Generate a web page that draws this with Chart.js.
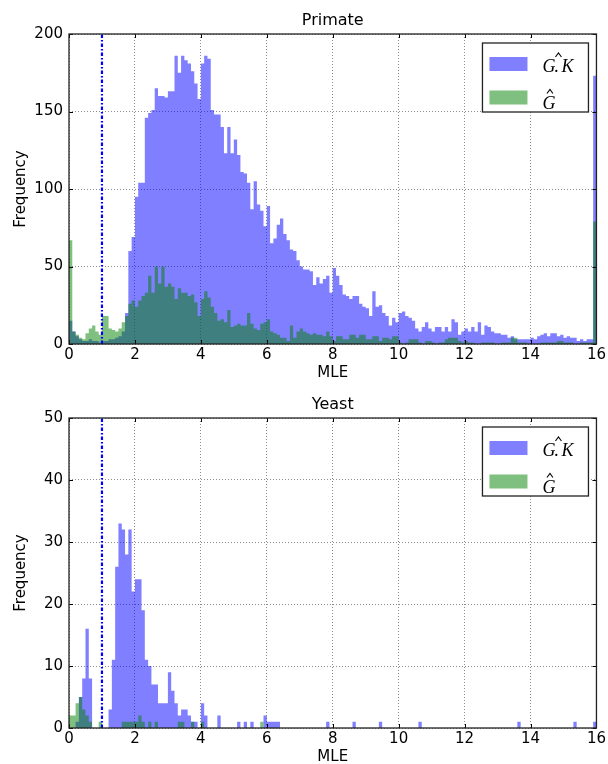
<!DOCTYPE html>
<html>
<head>
<meta charset="utf-8">
<script src="https://cdn.jsdelivr.net/npm/chart.js@4.4.1/dist/chart.umd.min.js"></script>
<style>
  html, body { margin: 0; padding: 0; background: #fff; }
  canvas { display: block; }
</style>
</head>
<body>
<canvas id="primate" width="608" height="382"></canvas>
<canvas id="yeast" width="608" height="382"></canvas>
<script>
// histogram bins: 160 bins of width 0.1 on [0, 16]
const binWidth = 0.1;
const binCount = 160;
const xTicks = [0, 2, 4, 6, 8, 10, 12, 14, 16];
const primateYTicks = [0, 50, 100, 150, 200];
const yeastYTicks = [0, 10, 20, 30, 40, 50];
const thresholdX = 1;
const seriesNames = ['G.K', 'G'];

// Primate, G.K hat (blue)
const primateGK = [
  15, 8, 5, 3, 2, 2, 3, 2, 2, 1,
  2, 2, 3, 3, 4, 5, 8, 20, 60, 69,
  95, 104, 104, 146, 149, 151, 165, 160, 160, 159,
  163, 163, 186, 175, 186, 183, 181, 176, 168, 158,
  181, 186, 184, 151, 148, 148, 140, 123, 140, 123,
  132, 122, 111, 110, 104, 87, 105, 90, 86, 76,
  89, 65, 68, 77, 81, 71, 67, 61, 60, 54,
  50, 48, 48, 47, 38, 43, 39, 42, 44, 33,
  49, 44, 38, 32, 31, 29, 31, 31, 26, 24,
  23, 18, 34, 24, 25, 20, 18, 12, 17, 14,
  20, 21, 18, 17, 15, 10, 8, 11, 14, 10,
  8, 11, 11, 8, 11, 8, 16, 14, 6, 8,
  10, 8, 11, 8, 14, 6, 12, 11, 8, 7,
  7, 6, 6, 4, 5, 3, 3, 3, 3, 3,
  4, 3, 5, 6, 7, 5, 7, 7, 5, 6,
  4, 5, 4, 4, 2, 3, 2, 3, 3, 173
];
// Primate, G hat (green)
const primateG = [
  67, 8, 6, 4, 3, 7, 10, 12, 8, 6,
  18, 18, 10, 9, 8, 10, 14, 18, 26, 28,
  24, 28, 31, 33, 44, 33, 50, 39, 50, 37,
  39, 37, 29, 36, 33, 33, 31, 32, 27, 18,
  29, 34, 30, 24, 20, 15, 16, 14, 22, 11,
  12, 13, 12, 12, 20, 13, 10, 9, 13, 14,
  16, 8, 7, 6, 4, 4, 2, 12, 4, 8,
  10, 8, 7, 6, 7, 6, 6, 5, 8, 5,
  2, 5, 5, 3, 3, 6, 6, 4, 6, 6,
  3, 3, 5, 5, 2, 4, 4, 3, 5, 5,
  1, 0, 1, 3, 3, 3, 1, 0, 2, 2,
  1, 0, 1, 1, 3, 4, 4, 4, 2, 1,
  2, 1, 1, 0, 0, 1, 1, 1, 1, 0,
  0, 1, 1, 1, 4, 4, 1, 1, 1, 0,
  0, 0, 0, 1, 1, 1, 1, 1, 2, 2,
  1, 1, 1, 0, 0, 1, 1, 1, 1, 79
];
// Yeast, G.K hat (blue)
const yeastGK = [
  0, 0, 1, 5, 8, 16, 8, 0, 0, 0,
  0, 0, 3, 11, 26, 33, 32, 28, 32, 22,
  24, 24, 19, 11, 10, 7, 7, 4, 4, 4,
  9, 6, 4, 2, 3, 3, 2, 1, 1, 0,
  4, 2, 0, 0, 0, 2, 0, 0, 0, 0,
  0, 1, 0, 1, 0, 1, 0, 0, 0, 2,
  1, 1, 1, 1, 0, 0, 0, 0, 0, 0,
  0, 0, 0, 0, 0, 0, 0, 0, 1, 0,
  0, 0, 0, 0, 0, 0, 1, 0, 0, 0,
  0, 0, 0, 0, 1, 0, 0, 0, 0, 0,
  0, 0, 0, 0, 0, 0, 1, 0, 0, 0,
  0, 0, 0, 0, 0, 0, 0, 0, 0, 0,
  0, 0, 0, 0, 0, 0, 0, 0, 0, 0,
  0, 0, 0, 0, 0, 0, 1, 0, 0, 0,
  0, 0, 0, 0, 0, 0, 0, 0, 0, 0,
  0, 0, 0, 1, 0, 0, 0, 0, 0, 1
];
// Yeast, G hat (green)
const yeastG = [
  2, 2, 4, 5, 3, 2, 1, 0, 0, 1,
  0, 0, 0, 0, 0, 0, 1, 1, 1, 1,
  1, 2, 1, 0, 1, 0, 1, 0, 0, 0,
  0, 0, 0, 1, 1, 0, 0, 1, 0, 0,
  1, 0, 0, 0, 0, 0, 0, 0, 0, 0,
  0, 0, 0, 0, 0, 0, 0, 0, 1, 0,
  0, 0, 0, 0, 0, 0, 0, 0, 0, 0,
  0, 0, 0, 0, 0, 0, 0, 0, 0, 0,
  0, 0, 0, 0, 0, 0, 0, 0, 0, 0,
  0, 0, 0, 0, 0, 0, 0, 0, 0, 0,
  0, 0, 0, 0, 0, 0, 0, 0, 0, 0,
  0, 0, 0, 0, 0, 0, 0, 0, 0, 0,
  0, 0, 0, 0, 0, 0, 0, 0, 0, 0,
  0, 0, 0, 0, 0, 0, 0, 0, 0, 0,
  0, 0, 0, 0, 0, 0, 0, 0, 0, 0,
  0, 0, 0, 0, 0, 0, 0, 0, 0, 0
];

const gkColor = 'rgba(0, 0, 255, 0.5)';
const gColor = 'rgba(0, 128, 0, 0.5)';

Chart.defaults.font.family = '"DejaVu Sans", sans-serif';
Chart.defaults.font.size = 15;
Chart.defaults.color = '#000';

// bin edges -> stepped points (last edge repeats last bin)
const toSteps = v => [...v.map((n, i) => ({ x: i / 10, y: n })), { x: binCount * binWidth, y: v[v.length - 1] }];

// frame, inner ticks, title, axis labels and the legend box (matplotlib look)
const mplDecor = {
  id: 'mplDecor',
  afterDraw(chart, args, opts) {
    const { ctx, chartArea: a, scales: { x, y } } = chart;
    ctx.save();

    // inner tick marks on all four sides
    ctx.strokeStyle = '#000'; ctx.lineWidth = 1;
    ctx.beginPath();
    x.ticks.forEach(t => {
      const px = Math.round(x.getPixelForValue(t.value)) + 0.5;
      ctx.moveTo(px, a.bottom); ctx.lineTo(px, a.bottom - 4);
      ctx.moveTo(px, a.top); ctx.lineTo(px, a.top + 4);
    });
    y.ticks.forEach(t => {
      const py = Math.round(y.getPixelForValue(t.value)) + 0.5;
      ctx.moveTo(a.left, py); ctx.lineTo(a.left + 4, py);
      ctx.moveTo(a.right, py); ctx.lineTo(a.right - 4, py);
    });
    ctx.stroke();

    ctx.strokeStyle = '#222'; ctx.lineWidth = 1.3;
    ctx.strokeRect(a.left, a.top, a.right - a.left, a.bottom - a.top);

    // texts
    ctx.fillStyle = '#000';
    ctx.textAlign = 'center'; ctx.textBaseline = 'middle';
    ctx.font = '16px "DejaVu Sans"';
    ctx.fillText(opts.title, (a.left + a.right) / 2, a.top - 13);
    ctx.font = '15px "DejaVu Sans"';
    ctx.fillText('MLE', (a.left + a.right) / 2, a.bottom + 29);
    ctx.save();
    ctx.translate(21, (a.top + a.bottom) / 2);
    ctx.rotate(-Math.PI / 2);
    ctx.fillText('Frequency', 0, 0);
    ctx.restore();

    // legend
    const bx = a.right - 114, by = a.top + 9, bw = 106, bh = 69;
    ctx.fillStyle = '#fff'; ctx.fillRect(bx, by, bw, bh);
    ctx.strokeStyle = '#222'; ctx.lineWidth = 1.3; ctx.strokeRect(bx, by, bw, bh);
    const colors = [gkColor, gColor];
    ctx.font = 'italic 18px "Liberation Serif"';
    ctx.textAlign = 'left'; ctx.textBaseline = 'alphabetic';
    seriesNames.forEach((name, i) => {
      ctx.fillStyle = colors[i];
      ctx.fillRect(bx + 7, by + 14 + i * 33.5, 38, 14);
      const tx = bx + 60, base = by + 29 + i * 36.5;
      ctx.fillStyle = '#000';
      let hatX;
      if (name === 'G.K') {
        ctx.fillText('G', tx, base);
        ctx.fillText('.', tx + 12, base);
        ctx.fillText('K', tx + 19, base);
        hatX = tx + 16;
      } else {
        ctx.fillText('G', tx, base);
        hatX = tx + 7.5;
      }
      ctx.strokeStyle = '#000'; ctx.lineWidth = 1.1;
      ctx.beginPath();
      ctx.moveTo(hatX - 3, base - 15); ctx.lineTo(hatX, base - 19); ctx.lineTo(hatX + 3, base - 15);
      ctx.stroke();
    });
    ctx.restore();
  }
};

function makeHist(id, title, gk, g, yTicks, padTop, xHeight) {
  const yMax = yTicks[yTicks.length - 1];
  new Chart(document.getElementById(id), {
    type: 'line',
    data: {
      datasets: [
        { data: [{ x: thresholdX, y: 0 }, { x: thresholdX, y: yMax }], borderColor: '#0000ff', borderWidth: 2.2,
          borderDash: [3.5, 2, 1.5, 2], pointRadius: 0, fill: false, order: 0 },
        { data: toSteps(g), stepped: true, fill: 'origin', backgroundColor: gColor, borderColor: 'rgba(0,0,0,0)',
          borderWidth: 0, pointRadius: 0, order: 1 },
        { data: toSteps(gk), stepped: true, fill: 'origin', backgroundColor: gkColor, borderColor: 'rgba(0,0,0,0)',
          borderWidth: 0, pointRadius: 0, order: 2 }
      ]
    },
    options: {
      responsive: false, devicePixelRatio: 1, animation: false, events: [],
      layout: { padding: { left: 0, right: 11, top: padTop, bottom: 0 } },
      plugins: { legend: { display: false }, tooltip: { enabled: false }, mplDecor: { title } },
      scales: {
        x: {
          type: 'linear', min: 0, max: 16,
          afterBuildTicks: s => { s.ticks = xTicks.map(v => ({ value: v })); },
          afterFit: s => { s.height = xHeight; },
          ticks: { padding: 2, maxRotation: 0, autoSkip: false },
          grid: { color: 'rgba(0,0,0,0.45)', lineWidth: 1, drawTicks: false },
          border: { display: false, dash: [1, 2] }
        },
        y: {
          min: 0, max: yMax,
          afterBuildTicks: s => { s.ticks = yTicks.map(v => ({ value: v })); },
          afterFit: s => { s.width = 69; },
          ticks: { padding: 6 },
          grid: { color: 'rgba(0,0,0,0.45)', lineWidth: 1, drawTicks: false },
          border: { display: false, dash: [1, 2] }
        }
      }
    },
    plugins: [mplDecor]
  });
}

makeHist('primate', 'Primate', primateGK, primateG, primateYTicks, 34, 38);
makeHist('yeast', 'Yeast', yeastGK, yeastG, yeastYTicks, 36, 36);
</script>
</body>
</html>
